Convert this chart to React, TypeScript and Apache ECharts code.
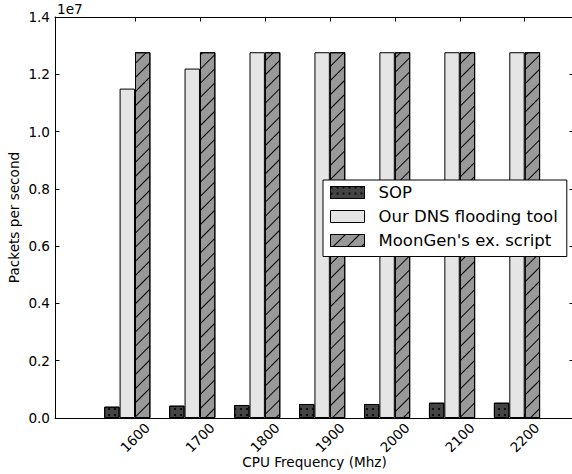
import React, { useEffect, useRef } from "react";
import * as echarts from "echarts";

const categories = ["1600", "1700", "1800", "1900", "2000", "2100", "2200"];
const sopValues = [395000, 430000, 454000, 489000, 489000, 534000, 534000];
const dnsValues = [11500000, 12200000, 12770000, 12770000, 12770000, 12770000, 12770000];
const moonGenValues = [12770000, 12770000, 12770000, 12770000, 12770000, 12770000, 12770000];
const seriesNames = ["SOP", "Our DNS flooding tool", "MoonGen's ex. script"];

const FONT = "DejaVu Sans";
const BAR_PX = 15.4;
const UNIT_PX = 64.95;
const W = BAR_PX / UNIT_PX;
const X_MIN = -80 / UNIT_PX;
const X_MAX = X_MIN + 519 / UNIT_PX;
const tickIdx = categories.map((_, i) => i);

export default function App() {
  const ref = useRef<HTMLDivElement>(null);
  useEffect(() => {
    document.body.style.margin = "0";
    const chart = echarts.init(ref.current!, null, { renderer: "svg" });
    const toPairs = (vals: number[], off: number) => vals.map((v, i) => [i + off, v]);
    const xCommon = {
      type: "value" as const,
      min: X_MIN,
      max: X_MAX,
      splitLine: { show: false },
      axisLine: { show: true, onZero: false, lineStyle: { color: "#000", width: 1 } },
      axisTick: { show: true, inside: true, length: 4.5, customValues: tickIdx, lineStyle: { color: "#000" } },
    };
    const yCommon = {
      type: "value" as const,
      min: 0,
      max: 14000000,
      interval: 2000000,
      splitLine: { show: false },
      axisLine: { show: true, onZero: false, lineStyle: { color: "#000", width: 1 } },
      axisTick: { show: true, inside: true, length: 4.5, lineStyle: { color: "#000" } },
    };
    chart.setOption({
      animation: false,
      textStyle: { fontFamily: FONT },
      grid: { left: 55, top: 17, width: 519, height: 401, containLabel: false, outerBoundsMode: "none" },
      xAxis: [
        {
          ...xCommon,
          position: "bottom",
          name: "CPU Frequency (Mhz)",
          nameLocation: "middle",
          nameGap: 37,
          nameMoveOverlap: false,
          nameTextStyle: { color: "#000", fontSize: 13.6, fontFamily: FONT },
          axisLabel: {
            show: true,
            customValues: tickIdx,
            rotate: 45,
            align: "center",
            verticalAlign: "middle",
            margin: 19.5,
            hideOverlap: false,
            color: "#000",
            fontSize: 13.6,
            fontFamily: FONT,
            formatter: (v: number) => categories[Math.round(v)] ?? "",
          },
        },
        { ...xCommon, position: "top", axisLabel: { show: false } },
      ],
      yAxis: [
        {
          ...yCommon,
          position: "left",
          name: "Packets per second",
          nameLocation: "middle",
          nameGap: 34,
          nameMoveOverlap: false,
          nameRotate: 90,
          nameTextStyle: { color: "#000", fontSize: 13.6, fontFamily: FONT },
          axisLabel: {
            color: "#000",
            fontSize: 13.6,
            fontFamily: FONT,
            margin: 5,
            formatter: (v: number) => (v / 1e7).toFixed(1),
          },
        },
        { ...yCommon, position: "right", axisLabel: { show: false } },
      ],
      legend: {
        orient: "vertical",
        left: 323,
        top: 180,
        data: seriesNames,
        backgroundColor: "#fff",
        borderColor: "#000",
        borderWidth: 1,
        borderRadius: 0,
        padding: [2.5, 9, 6, 7],
        itemWidth: 34,
        itemHeight: 12,
        itemGap: 4,
        icon: "rect",
        itemStyle: { borderColor: "#000", borderWidth: 1 },
        textStyle: { color: "#000", fontSize: 16.5, fontFamily: FONT, lineHeight: 20, padding: [0, 0, 0, 9] },
      },
      graphic: [
        {
          type: "text",
          left: 57,
          top: 2,
          style: { text: "1e7", fontSize: 13.6, fontFamily: FONT, fill: "#000" },
        },
      ],
      series: [
        {
          name: seriesNames[0],
          type: "bar",
          barWidth: BAR_PX,
          barGap: "-100%",
          data: toPairs(sopValues, -1.5 * W),
          itemStyle: {
            color: "#444444",
            borderColor: "#000",
            borderWidth: 1,
            decal: { symbol: "circle", symbolSize: 1, dashArrayX: [2, 4], dashArrayY: [2, 4], color: "#000" },
          },
        },
        {
          name: seriesNames[1],
          type: "bar",
          barWidth: BAR_PX,
          barGap: "-100%",
          data: toPairs(dnsValues, -0.5 * W),
          itemStyle: { color: "#e5e5e5", borderColor: "#000", borderWidth: 1 },
        },
        {
          name: seriesNames[2],
          type: "bar",
          barWidth: BAR_PX,
          barGap: "-100%",
          data: toPairs(moonGenValues, 0.5 * W),
          itemStyle: {
            color: "#999999",
            borderColor: "#000",
            borderWidth: 1,
            decal: { symbol: "rect", symbolSize: 1, dashArrayX: [1, 0], dashArrayY: [1, 9], rotation: -Math.PI / 4, color: "#000" },
          },
        },
      ],
    });
    return () => chart.dispose();
  }, []);
  return <div ref={ref} style={{ width: 572, height: 474 }} />;
}
